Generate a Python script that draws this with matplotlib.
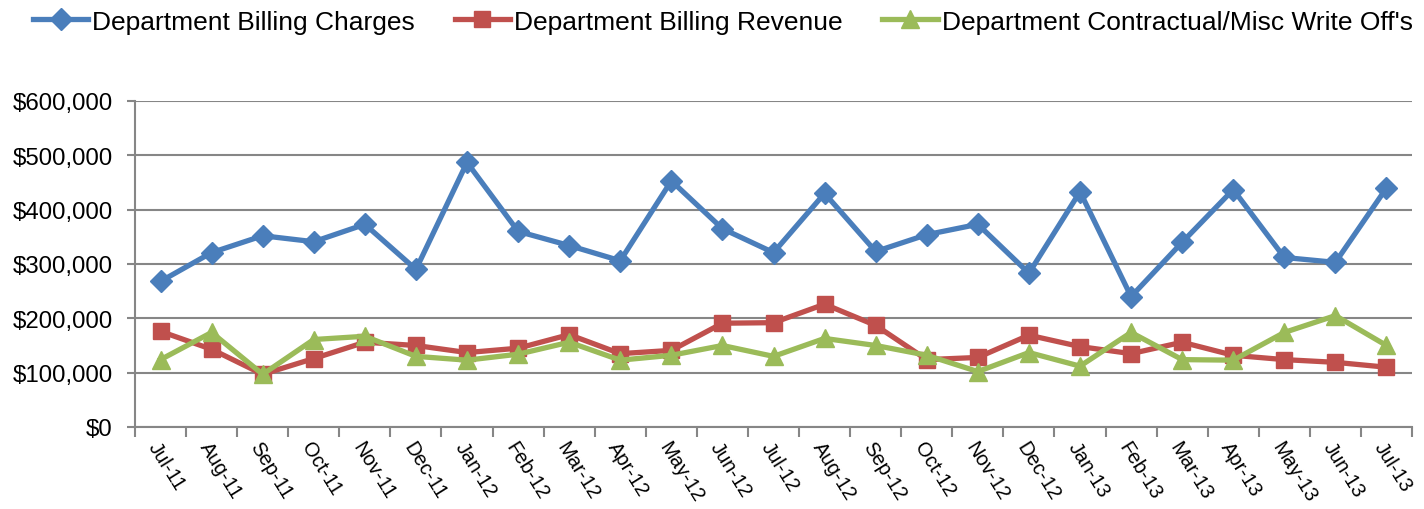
import matplotlib.pyplot as plt
import numpy as np
from matplotlib.ticker import FuncFormatter

plt.rcParams['font.family'] = ['Liberation Sans', 'DejaVu Sans']

months = ['Jul-11', 'Aug-11', 'Sep-11', 'Oct-11', 'Nov-11', 'Dec-11',
          'Jan-12', 'Feb-12', 'Mar-12', 'Apr-12', 'May-12', 'Jun-12',
          'Jul-12', 'Aug-12', 'Sep-12', 'Oct-12', 'Nov-12', 'Dec-12',
          'Jan-13', 'Feb-13', 'Mar-13', 'Apr-13', 'May-13', 'Jun-13',
          'Jul-13']

charges = [268000, 321000, 352000, 341000, 373000, 290000,
           487000, 360000, 334000, 306000, 453000, 365000,
           321000, 430000, 323000, 354000, 373000, 283000,
           433000, 240000, 340000, 437000, 312000, 303000,
           440000]

revenue = [176000, 143000, 97000, 126000, 156000, 150000,
           137000, 145000, 170000, 135000, 141000, 191000,
           192000, 226000, 187000, 124000, 128000, 169000,
           148000, 135000, 156000, 132000, 124000, 119000,
           110000]

write_offs = [124000, 174000, 97000, 161000, 167000, 130000,
              123000, 134000, 156000, 123000, 132000, 150000,
              130000, 163000, 150000, 132000, 102000, 137000,
              112000, 174000, 124000, 123000, 174000, 205000,
              150000]

fig = plt.figure(figsize=(14.24, 5.10), dpi=100)
ax = fig.add_axes([0.0948, 0.1608, 0.8968, 0.6392])

x = np.arange(len(months))
ax.plot(x, charges, color='#4A7EBB', lw=3.8, marker='D', ms=11,
        label='Department Billing Charges', zorder=3)
ax.plot(x, revenue, color='#C0504D', lw=3.8, marker='s', ms=12,
        label='Department Billing Revenue', zorder=3)
ax.plot(x, write_offs, color='#9BBB59', lw=3.8, marker='^', ms=13,
        label="Department Contractual/Misc Write Off's", zorder=4)

ax.set_xlim(-0.5, len(months) - 0.5)
ax.set_ylim(0, 600000)
ax.set_yticks(np.arange(0, 600001, 100000))
ax.yaxis.set_major_formatter(FuncFormatter(lambda v, p: f'${v:,.0f}'))
ax.grid(axis='y', color='#868686', lw=1.5)
ax.set_axisbelow(True)

ax.set_xticks(x)
ax.set_xticklabels(months, rotation=-58, ha='left', va='top',
                   rotation_mode='anchor', fontsize=14.5)
ax.tick_params(axis='x', length=0, pad=8)
ax.set_xticks(np.arange(-0.5, len(months), 1), minor=True)
ax.tick_params(axis='x', which='minor', length=7, width=1.5, color='#868686')
ax.tick_params(axis='y', labelsize=17.3, length=6, width=1.5,
               color='#868686', pad=10)

for side in ['top', 'right']:
    ax.spines[side].set_visible(False)
for side in ['left', 'bottom']:
    ax.spines[side].set_color('#868686')
    ax.spines[side].set_linewidth(1.5)

fig.legend(loc='upper left', bbox_to_anchor=(0.012, 1.01), ncol=3,
           frameon=False, fontsize=19, handlelength=2.1, markerscale=1.0,
           columnspacing=1.5, handletextpad=0.15, borderaxespad=0.2)

fig.savefig('out.png', dpi=100)
